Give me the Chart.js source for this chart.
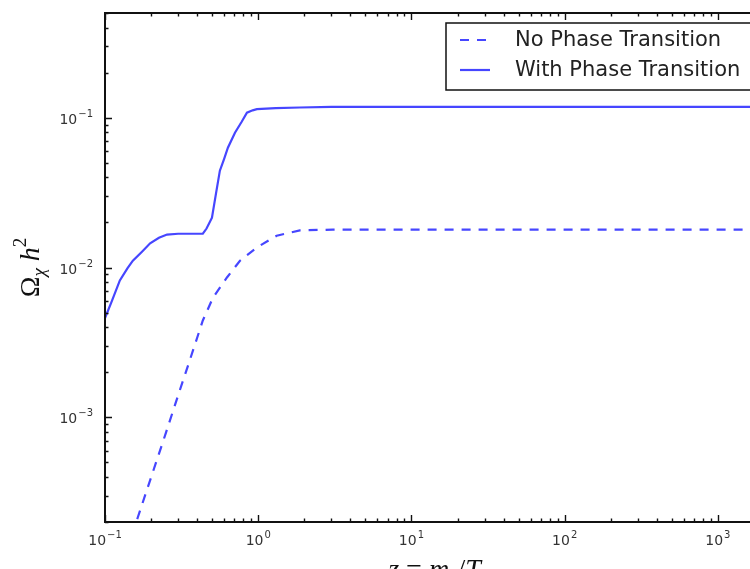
<!DOCTYPE html>
<html>
<head>
<meta charset="utf-8">
<script src="https://cdn.jsdelivr.net/npm/chart.js@4.4.1/dist/chart.umd.min.js"></script>
<style>
  html, body { margin: 0; padding: 0; background: #fff; overflow: hidden; width: 750px; height: 569px; }
  #wrap { position: absolute; left: 0; top: 0; width: 800px; height: 590px; }
</style>
</head>
<body>
<div id="wrap"><canvas id="c" width="800" height="590"></canvas></div>
<script>
// Relic abundance Omega_chi h^2 versus z = m_chi / T
const seriesNames = ['No Phase Transition', 'With Phase Transition'];

const zNoPT = [0.15, 0.164, 0.2, 0.25, 0.3, 0.35, 0.4, 0.435, 0.507, 0.625, 0.76, 0.98, 1.32, 1.87, 3.07, 10, 100, 1000, 2000];
const omegaNoPT = [1.63e-4, 2.16e-4, 3.98e-4, 7.9e-4, 1.40e-3, 2.25e-3, 3.41e-3, 4.43e-3, 6.3e-3, 8.58e-3, 1.11e-2, 1.36e-2, 1.63e-2, 1.77e-2, 1.79e-2, 1.79e-2, 1.79e-2, 1.79e-2, 1.79e-2];

const zWithPT = [0.1, 0.11, 0.125, 0.14, 0.152, 0.175, 0.197, 0.225, 0.254, 0.3, 0.435, 0.46, 0.499, 0.53, 0.562, 0.6, 0.634, 0.705, 0.78, 0.844, 0.92, 0.98, 1.3, 1.87, 3, 10, 100, 1000, 2000];
const omegaWithPT = [0.0046, 0.00585, 0.0082, 0.00985, 0.0111, 0.0128, 0.0145, 0.0158, 0.0166, 0.0168, 0.0168, 0.0182, 0.0215, 0.0311, 0.0443, 0.0533, 0.063, 0.0794, 0.094, 0.108, 0.112, 0.114, 0.116, 0.117, 0.118, 0.118, 0.118, 0.118, 0.118];

// decade tick labels: mantissa and exponent
const xTickValues = [0.1, 1, 10, 100, 1000];
const xTickExponents = ['-1', '0', '1', '2', '3'];
const yTickValues = [0.001, 0.01, 0.1];
const yTickExponents = ['-3', '-2', '-1'];
const tickBase = '10';

const xMin = 0.1, xMax = 2000;
const yMin = 2e-4, yMax = 0.5;

const lineBlue = '#4646ff';

function pairs(xs, ys) { return xs.map((x, i) => ({ x: x, y: ys[i] })); }

// every 1..9 x 10^k inside [min, max], with the decades flagged major
function logTicks(min, max) {
  const out = [];
  for (let e = Math.floor(Math.log10(min)) - 1; e <= Math.ceil(Math.log10(max)); e++) {
    for (let k = 1; k <= 9; k++) {
      const v = +(k * Math.pow(10, e)).toPrecision(6);
      if (v >= min * 0.9999 && v <= max * 1.0001) out.push({ value: v, major: k === 1 });
    }
  }
  return out;
}

const baseFont = '14px "DejaVu Sans"';
const expFont = '10px "DejaVu Sans"';

// draws "10" with a raised exponent; anchor 'right' or 'center', y is the digit baseline
function drawPower(ctx, exp, x, y, anchor) {
  ctx.font = baseFont;
  const wb = ctx.measureText(tickBase).width;
  ctx.font = expFont;
  const label = exp.replace('-', '\u2212');
  const we = ctx.measureText(label).width + 1;
  const total = wb + we;
  const x0 = anchor === 'right' ? x - total : x - total / 2;
  ctx.font = baseFont;
  ctx.fillText(tickBase, x0, y);
  ctx.font = expFont;
  ctx.fillText(label, x0 + wb + 1, y - 7);
}

const frameAndTicks = {
  id: 'frameAndTicks',
  afterDatasetsDraw(chart) {
    const { ctx, chartArea: a, scales } = chart;
    ctx.save();
    ctx.strokeStyle = '#111';
    ctx.lineWidth = 1.4;
    ctx.beginPath();
    scales.x.ticks.forEach(t => {
      const px = Math.round(scales.x.getPixelForValue(t.value)) + 0.5;
      const len = t.major ? 7 : 3.5;
      ctx.moveTo(px, a.bottom); ctx.lineTo(px, a.bottom - len);
      ctx.moveTo(px, a.top); ctx.lineTo(px, a.top + len);
    });
    scales.y.ticks.forEach(t => {
      const py = Math.round(scales.y.getPixelForValue(t.value)) + 0.5;
      const len = t.major ? 7 : 3.5;
      ctx.moveTo(a.left, py); ctx.lineTo(a.left + len, py);
      ctx.moveTo(a.right, py); ctx.lineTo(a.right - len, py);
    });
    ctx.stroke();
    ctx.lineWidth = 2;
    ctx.strokeRect(a.left, a.top, a.right - a.left, a.bottom - a.top);

    // decade labels
    ctx.fillStyle = '#333';
    ctx.textBaseline = 'alphabetic';
    xTickValues.forEach((v, i) => {
      drawPower(ctx, xTickExponents[i], scales.x.getPixelForValue(v), a.bottom + 23, 'center');
    });
    yTickValues.forEach((v, i) => {
      drawPower(ctx, yTickExponents[i], a.left - 12, scales.y.getPixelForValue(v) + 6, 'right');
    });
    ctx.restore();
  }
};

const axisTitles = {
  id: 'axisTitles',
  afterDraw(chart) {
    const { ctx, chartArea: a } = chart;
    ctx.save();
    ctx.fillStyle = '#111';
    ctx.textBaseline = 'alphabetic';
    const big = '28px "Liberation Serif"';
    const bigI = 'italic 28px "Liberation Serif"';
    const small = '19px "Liberation Serif"';
    const smallI = 'italic 19px "Liberation Serif"';
    // y title: Omega_chi h^2, rotated
    const partsY = [
      { t: 'Ω', f: big, dy: 0 },
      { t: 'χ', f: smallI, dy: 6 },
      { t: ' h', f: bigI, dy: 0 },
      { t: '2', f: small, dy: -13 }
    ];
    let total = 0;
    partsY.forEach(p => { ctx.font = p.f; p.w = ctx.measureText(p.t).width; total += p.w; });
    ctx.translate(39, (a.top + a.bottom) / 2);
    ctx.rotate(-Math.PI / 2);
    let x = -total / 2;
    partsY.forEach(p => { ctx.font = p.f; ctx.fillText(p.t, x, p.dy); x += p.w; });
    ctx.setTransform(1, 0, 0, 1, 0, 0);
    // x title: z = m_chi / T
    const partsX = [
      { t: 'z', f: bigI, dy: 0 },
      { t: ' = ', f: big, dy: 0 },
      { t: 'm', f: bigI, dy: 0 },
      { t: 'χ', f: smallI, dy: 6 },
      { t: '/', f: big, dy: 0 },
      { t: 'T', f: bigI, dy: 0 }
    ];
    total = 0;
    partsX.forEach(p => { ctx.font = p.f; p.w = ctx.measureText(p.t).width; total += p.w; });
    x = (a.left + a.right) / 2 - total / 2;
    const base = 578;
    partsX.forEach(p => { ctx.font = p.f; ctx.fillText(p.t, x, base + p.dy); x += p.w; });
    ctx.restore();
  }
};

const boxLegend = {
  id: 'boxLegend',
  afterDraw(chart) {
    const { ctx, chartArea: a } = chart;
    const left = 446, top = 23, height = 67, right = a.right - 10;
    ctx.save();
    ctx.fillStyle = '#fff';
    ctx.fillRect(left, top, right - left, height);
    ctx.strokeStyle = '#111';
    ctx.lineWidth = 1.5;
    ctx.strokeRect(left, top, right - left, height);
    const rows = [40, 70];
    chart.data.datasets.forEach((ds, i) => {
      const y = rows[i];
      ctx.strokeStyle = ds.borderColor;
      ctx.lineWidth = ds.borderWidth;
      ctx.setLineDash(ds.borderDash || []);
      ctx.beginPath();
      ctx.moveTo(460, y); ctx.lineTo(490, y);
      ctx.stroke();
      ctx.setLineDash([]);
      ctx.fillStyle = '#222';
      ctx.font = '21px "DejaVu Sans"';
      ctx.textBaseline = 'middle';
      ctx.fillText(ds.label, 515, y + 1);
    });
    ctx.restore();
  }
};

new Chart(document.getElementById('c'), {
  type: 'scatter',
  data: {
    datasets: [
      {
        label: seriesNames[0],
        data: pairs(zNoPT, omegaNoPT),
        showLine: true,
        borderColor: lineBlue,
        borderWidth: 2.2,
        borderDash: [9, 8],
        pointRadius: 0,
        tension: 0
      },
      {
        label: seriesNames[1],
        data: pairs(zWithPT, omegaWithPT),
        showLine: true,
        borderColor: lineBlue,
        borderWidth: 2.2,
        pointRadius: 0,
        tension: 0
      }
    ]
  },
  options: {
    responsive: false,
    animation: false,
    devicePixelRatio: 1,
    layout: { padding: { top: 13, right: 36, left: 0, bottom: 0 } },
    plugins: { legend: { display: false }, tooltip: { enabled: false } },
    scales: {
      x: {
        type: 'logarithmic',
        min: xMin, max: xMax,
        grid: { display: false },
        border: { display: false },
        afterBuildTicks: s => { s.ticks = logTicks(xMin, xMax); },
        afterFit: s => { s.height = 590 - 522; },
        ticks: { display: false }
      },
      y: {
        type: 'logarithmic',
        min: yMin, max: yMax,
        grid: { display: false },
        border: { display: false },
        afterBuildTicks: s => { s.ticks = logTicks(yMin, yMax); },
        afterFit: s => { s.width = 105; },
        ticks: { display: false }
      }
    }
  },
  plugins: [frameAndTicks, axisTitles, boxLegend]
});
</script>
</body>
</html>
